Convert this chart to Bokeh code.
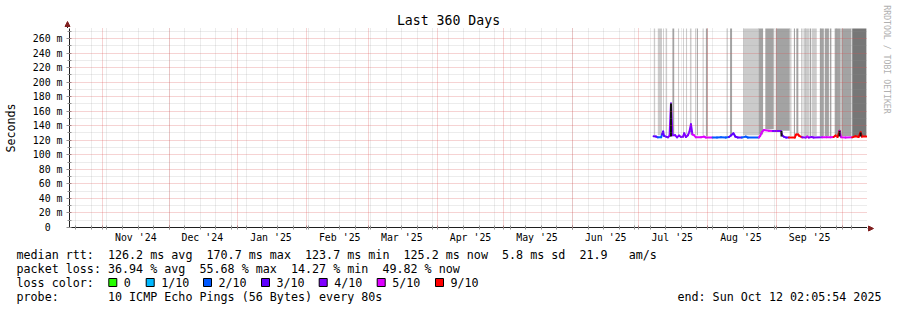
import datetime as dt
from bokeh.plotting import figure
from bokeh.layouts import column, row
from bokeh.models import Range1d, FixedTicker, Grid, ColumnDataSource
from bokeh.core.properties import value
from bokeh.embed import file_html
from bokeh.resources import INLINE
import math

# ---------------- data ----------------
END = dt.datetime(2025, 10, 12, 2, 5, 54)
SPAN_DAYS = 360
START = END - dt.timedelta(days=SPAN_DAYS)
Y_MAX = 273.7  # ms, top of the graph area

# median RTT samples: time in days since graph start, value in ms, loss bucket
t_day = [263.5, 264.6, 265.4, 266.9, 267.3, 267.8, 268.2, 269.1, 270.0, 270.7,
         271.35, 272.0, 273.2, 274.1, 275.0, 275.9, 276.8, 277.3, 278.1, 279.0,
         279.7, 280.35, 281.0, 281.7, 282.6, 284.9, 286.2, 287.1, 290.1, 292.1,
         293.9, 296.1, 297.5, 298.4, 299.5, 300.4, 301.5, 303.3, 305.1, 306.0,
         311.0, 311.6, 312.3, 313.2, 315.5, 317.3, 320.0, 320.9, 321.5, 322.2,
         323.3, 324.6, 327.2, 327.8, 328.7, 329.2, 330.5, 332.1, 332.8, 333.5,
         334.8, 335.7, 339.6, 341.6, 343.4, 344.7, 345.6, 346.5, 347.4, 348.1,
         350.1, 353.1, 354.6, 356.0, 356.9, 357.5, 359.4]
median_ms = [125.4, 125.0, 124.0, 124.0, 128.0, 132.0, 126.0, 125.0, 124.0, 126.0,
             170.7, 127.0, 127.0, 124.0, 126.4, 124.5, 125.0, 129.6, 124.5, 127.0,
             132.0, 142.0, 128.0, 127.0, 124.0, 124.0, 125.0, 123.8, 123.8, 123.8,
             124.0, 123.8, 124.5, 126.5, 129.6, 125.0, 123.8, 123.8, 125.0, 123.8,
             123.8, 126.0, 131.0, 134.0, 133.0, 132.7, 132.7, 132.7, 127.0, 125.0,
             123.7, 123.7, 123.7, 128.0, 128.0, 126.0, 124.0, 123.7, 125.0, 123.7,
             124.5, 123.7, 124.0, 124.0, 124.0, 124.5, 126.4, 124.5, 133.0, 124.0,
             123.7, 124.0, 125.5, 124.5, 131.0, 125.0, 125.2]
loss_idx = [3, 3, 2, 2, 3, 3, 3, 3, 4, 4,
            4, 4, 4, 4, 4, 4, 4, 4, 4, 4,
            4, 4, 5, 5, 5, 5, 5, 5, 2, 2,
            2, 2, 3, 3, 3, 3, 3, 2, 2, 2,
            5, 5, 5, 5, 5, 4, 4, 4, 3, 3,
            3, 6, 6, 6, 6, 6, 4, 4, 5, 4,
            4, 4, 5, 5, 5, 6, 6, 6, 5, 5,
            5, 6, 6, 6, 6, 6, 6]

# smoke (spread of the individual pings), days since start, shade 1..3
smoke_start = [263.6, 265.4, 267.8, 269.1, 272.0, 274.5, 276.8, 278.1, 279.9, 282.2,
               283.1, 285.6, 287.1, 296.4, 298.0, 303.9, 311.0, 313.9, 318.6, 325.1,
               326.8, 327.9, 330.2, 331.1, 333.9, 334.8, 338.5, 340.7, 343.0, 345.2,
               348.2, 353.1]
smoke_end = [264.2, 267.3, 268.2, 269.6, 272.8, 275.0, 277.2, 278.6, 280.6, 282.6,
             283.5, 286.1, 287.9, 296.9, 298.9, 311.0, 312.9, 317.7, 324.9, 325.7,
             327.3, 328.8, 330.6, 333.6, 334.5, 337.1, 340.3, 342.6, 343.7, 347.9,
             352.7, 359.5]
smoke_shade = [1, 1, 1, 1, 2, 1, 1, 1, 1, 1,
               2, 1, 2, 1, 2, 1, 2, 2, 2, 1,
               2, 2, 2, 1, 2, 1, 2, 2, 2, 2,
               2, 3]
smoke_low = [127, 127, 127, 127, 128, 127, 127, 128, 128, 127,
             127, 127, 126, 126, 127, 127, 128, 135, 133, 126,
             126, 129, 126, 126, 126, 126, 126, 126, 126, 126,
             126, 126]
smoke_high = [300, 300, 300, 300, 300, 300, 300, 300, 300, 300,
              300, 300, 300, 300, 300, 300, 300, 300, 300, 300,
              300, 300, 300, 300, 300, 300, 300, 300, 300, 300,
              300, 300]

# dense (dark) smoke around spikes
dense_day = [271.35, 321.2, 347.4, 356.9]
dense_lo = [125.0, 125.0, 125.0, 125.0]
dense_hi = [170.7, 132.7, 133.0, 131.0]

loss_labels = ["0", "1/10", "2/10", "3/10", "4/10", "5/10", "9/10"]
loss_colors = ["#26ff00", "#00b8ff", "#0059ff", "#5e00ff", "#7e00ff", "#dd00ff", "#ff0000"]
smoke_colors = {1: "#cbcbcb", 2: "#a3a3a3", 3: "#777777"}

y_ticks = [0, 20, 40, 60, 80, 100, 120, 140, 160, 180, 200, 220, 240, 260]
y_minor = [10, 30, 50, 70, 90, 110, 130, 150, 170, 190, 210, 230, 250, 270]

stats_rtt = "median rtt:  126.2 ms avg  170.7 ms max  123.7 ms min  125.2 ms now  5.8 ms sd  21.9   am/s"
stats_loss = "packet loss: 36.94 % avg  55.68 % max  14.27 % min  49.82 % now"
probe_txt = "probe:       10 ICMP Echo Pings (56 Bytes) every 80s"
end_txt = "end: Sun Oct 12 02:05:54 2025"
title_txt = "Last 360 Days"
watermark_txt = "RRDTOOL / TOBI OETIKER"

# ---------------- time axis helpers ----------------
def day_of(t):
    return (t - START).total_seconds() / 86400.0

def next_month(m):
    return dt.datetime(m.year + (m.month // 12), m.month % 12 + 1, 1)

month_ticks, label_ticks, label_text = [], [], {}
m = dt.datetime(START.year, START.month, 1)
while m <= END:
    if m >= START:
        month_ticks.append(day_of(m))
    c = m + dt.timedelta(days=15)
    if START <= c <= END:
        label_ticks.append(day_of(c))
        label_text[day_of(c)] = m.strftime("%b '%y")
    m = next_month(m)

week_ticks = []
w = dt.datetime(START.year, START.month, START.day) + dt.timedelta(days=1)
while w.weekday() != 6:
    w += dt.timedelta(days=1)
while w <= END:
    week_ticks.append(day_of(w))
    w += dt.timedelta(days=7)

# ---------------- layout constants (pixels) ----------------
W = 897
FL, FT, FW, FH = 67, 28, 800, 200
MAIN_W = FL + FW
SIDE_W = W - MAIN_W
UPPER_H = 245            # title strip + plot + x labels
PLOT_H = UPPER_H - FT    # plot figure below the title strip
LEG_H = 310 - UPPER_H
FONT = "DejaVu Sans Mono"
NB = "\u00a0"
AXIS_C = "#1f1f1f"
ARROW_C = "#801f1f"


def strip(width, height):
    f = figure(width=width, height=height, x_range=Range1d(0, width), y_range=Range1d(height, 0),
               output_backend="svg", toolbar_location=None, min_border=0,
               min_border_left=0, min_border_right=0, min_border_top=0, min_border_bottom=0,
               background_fill_color="white", border_fill_color="white", outline_line_color=None)
    f.frame_align = False
    f.axis.visible = False
    f.grid.visible = False
    return f


p = figure(width=MAIN_W, height=PLOT_H, x_range=Range1d(0, SPAN_DAYS), y_range=Range1d(0, Y_MAX),
           output_backend="svg", toolbar_location=None,
           min_border_left=FL, min_border_right=0, min_border_top=0,
           min_border_bottom=PLOT_H - FH,
           background_fill_color="white", border_fill_color="white", outline_line_color=None)
p.frame_align = False
p.grid.visible = False

# grids (drawn over the data, like rrdtool)
for dim, ticks, col, alpha in [(0, week_ticks, "#8f8f8f", 0.35), (1, y_minor, "#8f8f8f", 0.35),
                               (0, month_ticks, "#de4f4f", 0.5), (1, y_ticks[1:], "#de4f4f", 0.5)]:
    g = Grid(dimension=dim, ticker=FixedTicker(ticks=ticks), grid_line_color=col,
             grid_line_alpha=alpha, grid_line_dash="1 1", grid_line_width=1, level="overlay")
    p.add_layout(g, "center")

# smoke
smoke_src = ColumnDataSource(dict(left=smoke_start, right=smoke_end, bottom=smoke_low, top=smoke_high,
                                  color=[smoke_colors[s] for s in smoke_shade]))
p.quad(left="left", right="right", bottom="bottom", top="top", fill_color="color",
       line_color=None, source=smoke_src)

# median line coloured by loss
seg = dict(x0=t_day[:-1], y0=median_ms[:-1], x1=t_day[1:], y1=median_ms[1:],
           color=[loss_colors[i] for i in loss_idx[:-1]])
p.segment(x0="x0", y0="y0", x1="x1", y1="y1", line_color="color", line_width=2,
          line_cap="round", source=ColumnDataSource(seg))

# dense smoke around spikes
p.segment(x0=dense_day, y0=dense_lo, x1=dense_day, y1=dense_hi, line_color="#111111", line_width=2)

# axes
xa = p.xaxis[0]
xa.ticker = FixedTicker(ticks=label_ticks, minor_ticks=week_ticks + month_ticks)
xa.major_label_overrides = label_text
xa.major_tick_line_color = None
xa.major_tick_out = 2
xa.major_tick_in = 0
xa.minor_tick_in = 2
xa.minor_tick_out = 2
xa.minor_tick_line_color = "#909090"
xa.major_label_standoff = 2
xa.axis_line_color = AXIS_C

ya = p.yaxis[0]
ya.ticker = FixedTicker(ticks=y_ticks, minor_ticks=y_minor)
ya.major_label_overrides = {v: (f"{v}{NB}m" if v else f"0{NB}{NB}") for v in y_ticks}
ya.major_tick_in = 2
ya.major_tick_out = 3
ya.minor_tick_in = 2
ya.minor_tick_out = 2
ya.major_tick_line_color = "#909090"
ya.minor_tick_line_color = "#909090"
ya.major_label_standoff = 4
ya.axis_line_color = AXIS_C
ya.axis_label = "Seconds"
ya.axis_label_text_font = FONT
ya.axis_label_text_font_size = "11.7px"
ya.axis_label_text_font_style = "normal"
ya.axis_label_text_color = "black"
ya.axis_label_standoff = 12

for a in (xa, ya):
    a.major_label_text_font = FONT
    a.major_label_text_font_size = "9.9px"
    a.major_label_text_color = "black"

# ---------------- title strip (title + y-axis arrow head) ----------------
top = strip(MAIN_W, FT)
top.text(x=[448], y=[19.5], text=[title_txt.replace(" ", NB)], text_align="center",
         text_baseline="middle", text_font=value(FONT), text_font_size=value("13.2px"),
         text_color="black")
top.segment(x0=[FL], y0=[25], x1=[FL], y1=[FT], line_color=AXIS_C, line_width=1)
top.patch(x=[FL - 2.5, FL, FL + 2.5], y=[26, 21, 26], fill_color=ARROW_C, line_color=ARROW_C)

# ---------------- right strip: watermark + x-axis arrow head ----------------
side = strip(SIDE_W, UPPER_H)
side.text(x=[886 - MAIN_W], y=[59], text=[watermark_txt.replace(" ", NB)], angle=-math.pi / 2,
          text_align="center", text_baseline="middle", text_font=value(FONT),
          text_font_size=value("8.2px"), text_color="#b0b0b0")
ax_y = FT + FH
side.segment(x0=[0], y0=[ax_y], x1=[2], y1=[ax_y], line_color=AXIS_C, line_width=1)
side.patch(x=[1, 6, 1], y=[ax_y - 2.5, ax_y, ax_y + 2.5], fill_color=ARROW_C, line_color=ARROW_C)

# ---------------- legend block ----------------
leg = strip(W, LEG_H)
row_y = [254.3 - UPPER_H, 268.3 - UPPER_H, 282.0 - UPPER_H, 296.0 - UPPER_H]
box_px = [108.3, 145.7, 203.0, 261.0, 318.7, 376.7, 435.0]

txt_x = [16, 16, 16, 16] + [b + 15 for b in box_px] + [881]
txt_y = row_y + [row_y[2]] * len(box_px) + [row_y[3]]
txt = [stats_rtt, stats_loss, "loss color:", probe_txt] + loss_labels + [end_txt]
align = ["left"] * (4 + len(box_px)) + ["right"]
leg.text(x=txt_x, y=txt_y, text=[t.replace(" ", NB) for t in txt], text_align=align,
         text_baseline="middle", text_font=value(FONT), text_font_size=value("11.7px"),
         text_color="black")
leg.quad(left=box_px, right=[b + 8 for b in box_px], top=[row_y[2] - 4] * len(box_px),
         bottom=[row_y[2] + 4] * len(box_px), fill_color=loss_colors, line_color="black",
         line_width=1)

layout = column(row(column(top, p, spacing=0), side, spacing=0), leg, spacing=0)
open("out.html", "w").write(file_html(layout, INLINE))
